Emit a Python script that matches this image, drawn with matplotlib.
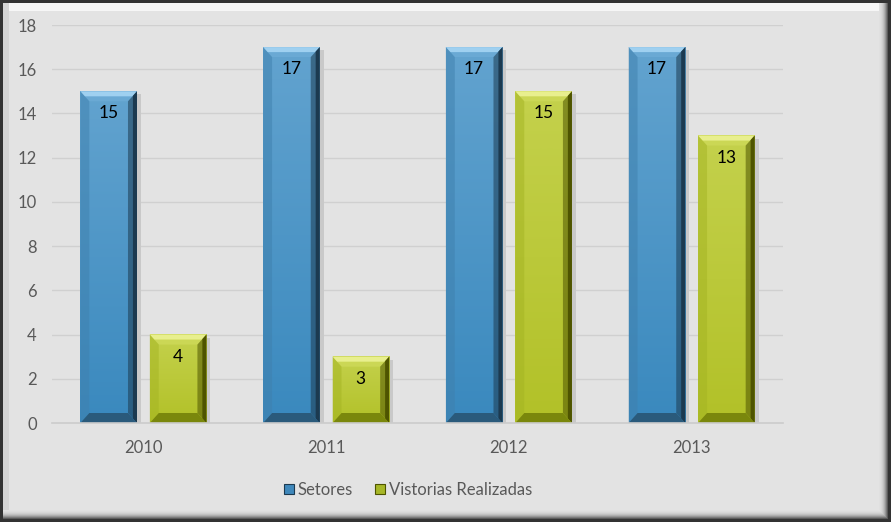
import matplotlib
matplotlib.use("Agg")
import matplotlib.pyplot as plt
import numpy as np
from matplotlib.patches import Polygon, Rectangle
from matplotlib.colors import LinearSegmentedColormap

plt.rcParams['font.family'] = ['Lato', 'DejaVu Sans']

categories = ["2010", "2011", "2012", "2013"]
setores = [15, 17, 17, 17]
vistorias = [4, 3, 15, 13]
series_names = ["Setores", "Vistorias Realizadas"]
yticks = [0, 2, 4, 6, 8, 10, 12, 14, 16, 18]

W, H = 891, 522
fig = plt.figure(figsize=(W / 100, H / 100), dpi=100)
fig.patch.set_facecolor("#333333")

def fr(x0, y0, x1, y1, color, z=0):
    # rectangle in pixel coords (top-left origin)
    fig.patches.append(Rectangle((x0 / W, 1 - y1 / H), (x1 - x0) / W, (y1 - y0) / H,
                                 transform=fig.transFigure, facecolor=color,
                                 edgecolor="none", zorder=z))

# frame bevel (gradient bands on right / bottom)
shades = ["#5a5a5a", "#7a7a7a", "#969696", "#aeaeae", "#c0c0c0", "#cdcdcd", "#d6d6d6", "#dcdcdc", "#e0e0e0"]
for i, c in enumerate(shades):
    fr(3, 3, 888 - i, 519 - i, c, z=0.1 + i * 0.01)
fr(3, 3, 888 - 9, 11, "#f6f6f6", z=0.2)
fr(3, 3, 9, 519 - 9, "#d4d4d4", z=0.2)
fr(9, 11, 888 - 9, 519 - 9, "#e3e3e3", z=0.3)

ax_l, ax_r, ax_t, ax_b = 52, 783, 25, 423
ax = fig.add_axes([ax_l / W, 1 - ax_b / H, (ax_r - ax_l) / W, (ax_b - ax_t) / H])
ax.set_facecolor("none")
ax.set_zorder(2)

x = np.arange(len(categories))
bw = 0.31
off = 0.19
ax.set_xlim(-0.5, len(categories) - 0.5)
ax.set_ylim(0, 18)

pxx = (ax_r - ax_l) / (len(categories))
pxy = (ax_b - ax_t) / 18.0

styles = [
    dict(top=["#9fd0f0", "#6aa9d4"], left="#3f80ad", right="#1c3a50", bottom="#2a5a7b",
         grad=["#62a3cf", "#3a89be"], legend="#3f88bb"),
    dict(top=["#e8ef8e", "#cbd755"], left="#a4b423", right="#4e5400", bottom="#7a870c",
         grad=["#c4d14c", "#b2c128"], legend="#a7b727"),
]

def bevel_bar(xc, h, st):
    x0, x1 = xc - bw / 2, xc + bw / 2
    bx = 9 / pxx
    by = 10 / pxy
    # shadow
    ax.add_patch(Rectangle((x1, 0), 4 / pxx, h - 3 / pxy, facecolor="#c9c9c9",
                           edgecolor="none", zorder=2))
    # face gradient
    cmap = LinearSegmentedColormap.from_list("g", st["grad"][::-1])
    grad = np.linspace(0, 1, 64).reshape(-1, 1)
    ax.imshow(grad, extent=(x0, x1, 0, h), aspect="auto", cmap=cmap,
              origin="lower", zorder=3, interpolation="bilinear")
    ax.add_patch(Polygon([(x0, h), (x1, h), (x1 - bx, h - by), (x0 + bx, h - by)],
                         closed=True, facecolor=st["top"][1], edgecolor="none", zorder=4))
    ax.add_patch(Polygon([(x0, h), (x1, h), (x1 - bx * 0.5, h - by * 0.5), (x0 + bx * 0.5, h - by * 0.5)],
                         closed=True, facecolor=st["top"][0], edgecolor="none", zorder=4))
    ax.add_patch(Polygon([(x0, h), (x0 + bx, h - by), (x0 + bx, by), (x0, 0)],
                         closed=True, facecolor=st["left"], edgecolor="none", zorder=4, alpha=0.5))
    ax.add_patch(Polygon([(x1, h), (x1 - bx, h - by), (x1 - bx, by), (x1, 0)],
                         closed=True, facecolor=st["right"], edgecolor="none", zorder=4, alpha=0.55))
    ax.add_patch(Polygon([(x1, h), (x1 - bx * 0.45, h - by * 0.45), (x1 - bx * 0.45, by * 0.45), (x1, 0)],
                         closed=True, facecolor=st["right"], edgecolor="none", zorder=4))
    ax.add_patch(Polygon([(x0, 0), (x1, 0), (x1 - bx, by), (x0 + bx, by)],
                         closed=True, facecolor=st["bottom"], edgecolor="none", zorder=4))

for vals, dx, st in [(setores, -off, styles[0]), (vistorias, off, styles[1])]:
    for xi, v in zip(x, vals):
        bevel_bar(xi + dx, v, st)
        ax.text(xi + dx, v - 22 / pxy, str(v), ha="center", va="center",
                fontsize=12.5, color="black", zorder=5)

ax.set_yticks(yticks)
ax.yaxis.grid(True, color="#d0d0d0", linewidth=1)
ax.set_axisbelow(True)
ax.set_xticks(x)
ax.set_xticklabels(categories)
ax.tick_params(axis="both", length=0, colors="#595959", labelsize=12)
ax.tick_params(axis="x", pad=12)
ax.tick_params(axis="y", pad=11)
for s in ["top", "right", "left"]:
    ax.spines[s].set_visible(False)
ax.spines["bottom"].set_color("#cccccc")
ax.spines["bottom"].set_linewidth(1.2)
ax.spines["bottom"].set_zorder(6)

handles = [Rectangle((0, 0), 1, 1, facecolor=st["legend"], edgecolor=st["right"], linewidth=0.8)
           for st in styles]
leg = fig.legend(handles, series_names, loc="center", bbox_to_anchor=(408 / W, 1 - 490 / H),
                 ncol=2, frameon=False, fontsize=12, handlelength=0.6, handleheight=0.6,
                 handletextpad=0.25, columnspacing=1.3, labelcolor="#595959")

fig.savefig("out.png", dpi=100, facecolor=fig.get_facecolor())
